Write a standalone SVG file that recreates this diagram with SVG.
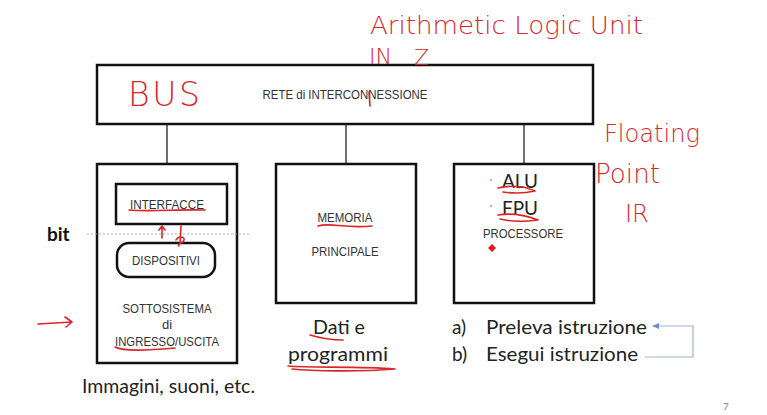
<svg xmlns="http://www.w3.org/2000/svg" width="767" height="415" viewBox="0 0 767 415">
  <defs>
    <style>
      .box { fill: #ffffff; stroke: #111111; stroke-width: 2.5; }
      .wire { stroke: #222222; stroke-width: 1.3; fill: none; }
      .lbl { font-family: "Liberation Sans", Arial, sans-serif; font-size: 13px; fill: #333333; text-anchor: middle; }
      .body { font-family: "Lato", "Open Sans", sans-serif; font-size: 19px; fill: #222222; }
      .ink { fill: none; stroke: #d9262a; stroke-width: 1.6; stroke-linecap: round; stroke-linejoin: round; }
      .hand { font-family: "DejaVu Sans", sans-serif; font-weight: 200; fill: #d9262a; }
    </style>
    <marker id="tip" viewBox="0 0 6 6" refX="5" refY="3" markerWidth="6" markerHeight="6" orient="auto">
      <path d="M0,0.5 L6,3 L0,5.5 Z" fill="#6f8fc8"/>
    </marker>
  </defs>

  <!-- connectors between the bus and the three units -->
  <g id="connectors">
    <line class="wire" x1="167" y1="124" x2="167" y2="164"/>
    <line class="wire" x1="346" y1="124" x2="346" y2="164"/>
    <line class="wire" x1="524" y1="124" x2="524" y2="164"/>
    <line class="wire" x1="167" y1="224" x2="167" y2="243"/>
    <!-- fetch / execute loop -->
    <path d="M645,357 H693 V326 H653" fill="none" stroke="#9fb4d8" stroke-width="1.2" marker-end="url(#tip)"/>
  </g>

  <!-- bus -->
  <g id="bus">
    <rect class="box" x="97" y="65" width="496" height="59"/>
    <text class="lbl" x="345" y="99" textLength="165" lengthAdjust="spacingAndGlyphs">RETE di INTERCONNESSIONE</text>
  </g>

  <!-- input/output subsystem -->
  <g id="io">
    <rect class="box" x="97" y="164" width="140" height="199"/>
    <text class="lbl" x="167" y="313" textLength="89" lengthAdjust="spacingAndGlyphs">SOTTOSISTEMA</text>
    <text class="lbl" x="167" y="329">di</text>
    <text class="lbl" x="167" y="346" textLength="104" lengthAdjust="spacingAndGlyphs">INGRESSO/USCITA</text>
  </g>
  <g id="interfacce">
    <rect class="box" x="116" y="184" width="111" height="40"/>
    <text class="lbl" x="167" y="209" textLength="74" lengthAdjust="spacingAndGlyphs">INTERFACCE</text>
  </g>
  <g id="dispositivi">
    <rect class="box" x="117" y="243" width="98" height="34" rx="12" ry="12"/>
    <text class="lbl" x="166" y="265" textLength="68" lengthAdjust="spacingAndGlyphs">DISPOSITIVI</text>
  </g>

  <!-- main memory -->
  <g id="memoria">
    <rect class="box" x="276" y="164" width="140" height="139"/>
    <text class="lbl" x="345" y="222" textLength="55" lengthAdjust="spacingAndGlyphs">MEMORIA</text>
    <text class="lbl" x="345" y="256" textLength="67" lengthAdjust="spacingAndGlyphs">PRINCIPALE</text>
  </g>

  <!-- processor -->
  <g id="processore">
    <rect class="box" x="454" y="164" width="140" height="139"/>
    <text class="body" x="520" y="188" text-anchor="middle" textLength="36" lengthAdjust="spacingAndGlyphs">ALU</text>
    <text class="body" x="520" y="215" text-anchor="middle" textLength="36" lengthAdjust="spacingAndGlyphs">FPU</text>
    <text class="lbl" x="523" y="238" textLength="80" lengthAdjust="spacingAndGlyphs">PROCESSORE</text>
  </g>

  <!-- bit boundary, drawn over the I/O subsystem -->
  <line x1="87" y1="234" x2="250" y2="234" stroke="#9aa6c8" stroke-width="0.9" stroke-dasharray="2,2"/>

  <!-- captions -->
  <g id="captions">
    <text x="47" y="241" font-family="Lato, sans-serif" font-weight="bold" font-size="19" fill="#111">bit</text>
    <text class="body" x="82" y="393" textLength="173" lengthAdjust="spacingAndGlyphs">Immagini, suoni, etc.</text>
    <text class="body" x="313" y="334" textLength="52" lengthAdjust="spacingAndGlyphs">Dati e</text>
    <text class="body" x="288" y="361" textLength="100" lengthAdjust="spacingAndGlyphs">programmi</text>
    <text class="body" x="452" y="334">a)</text>
    <text class="body" x="486" y="334" textLength="161" lengthAdjust="spacingAndGlyphs">Preleva istruzione</text>
    <text class="body" x="452" y="361">b)</text>
    <text class="body" x="486" y="361" textLength="152" lengthAdjust="spacingAndGlyphs">Esegui istruzione</text>
    <text x="723" y="410" font-family="Lato, sans-serif" font-size="10" fill="#888">7</text>
  </g>

  <!-- hand-written notes in red ink -->
  <g id="notes">
    <text class="hand" x="370" y="34" font-size="25" textLength="273" lengthAdjust="spacingAndGlyphs">Arithmetic Logic Unit</text>
    <text class="hand" x="369" y="64" font-size="22">IN</text>
    <text class="hand" x="414" y="65" font-size="22">Z</text>
    <text class="hand" x="128" y="106" font-size="33" textLength="72" lengthAdjust="spacing">BUS</text>
    <text class="hand" x="604" y="142" font-size="25" textLength="96" lengthAdjust="spacingAndGlyphs">Floating</text>
    <text class="hand" x="595" y="183" font-size="26" textLength="65" lengthAdjust="spacingAndGlyphs">Point</text>
    <text class="hand" x="625" y="222" font-size="24">IR</text>
    <path class="ink" d="M369,92 L370,106"/>
    <!-- underlines and marks -->
    <path class="ink" d="M129,210 C150,212 180,209 205,210"/>
    <path class="ink" d="M162,238 L162,227 M159,230 L162,226 L165,230"/>
    <path class="ink" d="M181,226 L180,244 M176,240 C178,236 185,236 184,240 C183,244 177,243 179,246"/>
    <path class="ink" d="M318,226 C330,222 345,229 372,226"/>
    <path class="ink" d="M115,347 C125,352 150,350 175,348"/>
    <path class="ink" d="M498,188 C510,185 525,186 535,191 C522,194 510,193 503,192"/>
    <path class="ink" d="M498,215 C510,213 525,215 538,220 C522,222 508,221 500,219"/>
    <circle cx="491" cy="180" r="0.8" fill="#d9262a"/>
    <circle cx="491" cy="206" r="0.8" fill="#d9262a"/>
    <path d="M492,244 L496,248 L492,252 L488,248 Z" fill="#e8161c"/>
    <path class="ink" d="M310,335 C320,338 335,340 343,340"/>
    <path class="ink" d="M288,366 C310,368 360,366 395,369 C360,372 310,371 292,369"/>
    <path class="ink" d="M38,324 L72,322 M65,317 L72,322 L66,327"/>
  </g>
</svg>
